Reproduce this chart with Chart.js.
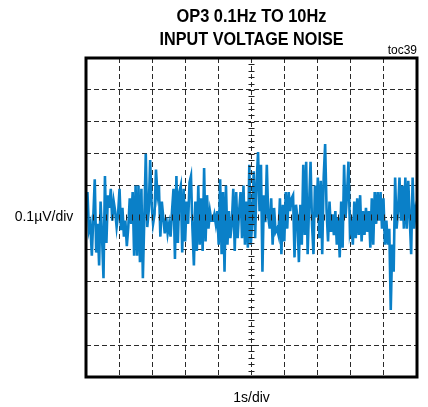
<!DOCTYPE html>
<html>
<head>
<meta charset="utf-8">
<script src="https://cdn.jsdelivr.net/npm/chart.js@4.4.0/dist/chart.umd.min.js"></script>
<style>
  html, body { margin: 0; padding: 0; background: #fff; }
  #wrap { width: 428px; height: 407px; }
</style>
</head>
<body>
<div id="wrap"><canvas id="chart" width="428" height="407"></canvas></div>
<script>
// scope settings: 1s/div horizontally, 0.1uV/div vertically, 10 x 10 divisions
const titleLines = ["OP3 0.1Hz TO 10Hz", "INPUT VOLTAGE NOISE"];
const tocLabel = "toc39";
const yLabel = "0.1\u00B5V/div";
const xLabel = "1s/div";
const timeSpan = 10;       // seconds across the screen
const voltRange = 0.5;     // uV from center to top edge

// noise trace in uV
const noise = [
  // 0-1 s
  0.02, 0.08, -0.04, -0.02, -0.12, 0.00, 0.12, -0.11, -0.02, -0.15, 0.05, -0.06, -0.19, 0.13, -0.08, 0.07, 0.03, 0.09, -0.01, 0.05, 0.02, -0.03,
  // 1-2 s
  0.01, 0.09, -0.04, 0.03, -0.06, -0.01, -0.09, -0.03, 0.06, -0.02, 0.08, -0.12, 0.10, -0.12, 0.10, -0.14, 0.09, -0.19, 0.00, 0.20, -0.03, 0.02,
  // 2-3 s
  0.18, 0.04, -0.02, 0.01, 0.15, 0.07, 0.10, -0.06, 0.05, 0.00, -0.05, 0.00, -0.05, -0.02, -0.06, 0.02, 0.09, -0.13, 0.13, -0.08, 0.08,
  // 3-4 s
  0.10, -0.11, 0.09, -0.075, 0.05, -0.02, 0.11, 0.13, -0.035, -0.15, 0.05, -0.105, 0.10, -0.085, 0.06, -0.105, 0.155, -0.075, 0.07, -0.035, 0.02, -0.01,
  // 4-5 s
  -0.01, 0.01, -0.02, 0.02, -0.085, 0.12, -0.115, 0.08, -0.17, 0.10, -0.085, 0.02, -0.065, -0.02, 0.09, -0.105, 0.08, -0.065, 0.02, 0.08, -0.065, 0.10,
  // 5-6 s
  -0.085, 0.05, -0.095, 0.165, -0.085, -0.015, 0.145, -0.065, 0.11, 0.205, 0.02, 0.165, -0.17, 0.07, -0.015, 0.165, 0.00, -0.035, 0.06, -0.085, 0.03, -0.045, -0.035,
  // 6-7 s
  -0.055, 0.06, -0.115, 0.04, -0.075, 0.08, -0.035, 0.08, 0.02, 0.06, 0.07, -0.125, 0.04, 0.00, -0.14, 0.04, -0.085, 0.165, -0.055, 0.175, -0.115, 0.04,
  // 7-8 s
  0.175, -0.02, -0.115, 0.10, 0.00, 0.125, -0.065, 0.115, -0.115, 0.125, 0.23, 0.02, -0.075, 0.05, -0.045, 0.01, -0.055, 0.02, -0.085, 0.00, -0.125, 0.05, -0.095,
  // 8-9 s
  0.165, 0.00, 0.07, 0.175, -0.045, -0.02, -0.085, 0.05, -0.065, 0.06, -0.055, 0.07, -0.075, 0.02, -0.055, 0.03, -0.045, 0.02, -0.095, 0.06, -0.085, 0.08, -0.02, 0.08, -0.01,
  // 9-10 s
  0.08, -0.035, 0.06, -0.085, -0.01, -0.085, -0.035, -0.29, -0.085, -0.17, 0.125, -0.035, 0.02, 0.125, -0.01, 0.10, -0.035, 0.125, -0.035, 0.115, 0.00, -0.115, 0.125, -0.035, 0.02, -0.01
];

const points = noise.map((v, i) => ({ x: i * timeSpan / (noise.length - 1), y: v }));

const FONT = "'Liberation Sans', Arial, sans-serif";

// narrow bold heading: draw taller glyphs then squeeze them to the width they have in the original
function narrowText(ctx, text, x, y, width) {
  const w = ctx.measureText(text).width;
  ctx.save();
  ctx.translate(x, y);
  ctx.scale(width / w, 1);
  ctx.fillText(text, 0, 0);
  ctx.restore();
}

// frame, center tick marks and the loose text around the screen
const scopePlugin = {
  id: "scope",
  afterDraw(chart) {
    const { ctx, chartArea: a, scales } = chart;
    const xs = scales.x, ys = scales.y;
    const cx = xs.getPixelForValue(timeSpan / 2);
    const cy = ys.getPixelForValue(0);
    ctx.save();
    // small ticks on the center lines, 5 per division
    ctx.strokeStyle = "#222";
    ctx.lineWidth = 1;
    ctx.beginPath();
    for (let t = 0; t <= timeSpan; t += 0.2) {
      const px = Math.round(xs.getPixelForValue(t)) + 0.5;
      ctx.moveTo(px, cy - 3);
      ctx.lineTo(px, cy + 3);
    }
    for (let v = -voltRange; v <= voltRange + 1e-9; v += 0.02) {
      const py = Math.round(ys.getPixelForValue(v)) + 0.5;
      ctx.moveTo(cx - 3, py);
      ctx.lineTo(cx + 3, py);
    }
    ctx.stroke();
    // frame
    ctx.strokeStyle = "#000";
    ctx.lineWidth = 3;
    ctx.strokeRect(a.left, a.top, a.right - a.left, a.bottom - a.top);
    // texts
    ctx.fillStyle = "#000";
    ctx.textAlign = "center";
    ctx.textBaseline = "middle";
    ctx.font = "bold 18px " + FONT;
    narrowText(ctx, titleLines[0], cx, 17, 150);
    narrowText(ctx, titleLines[1], cx, 40, 184);
    ctx.font = "12px " + FONT;
    ctx.textAlign = "right";
    ctx.fillText(tocLabel, a.right, 51);
    ctx.font = "14px " + FONT;
    ctx.textAlign = "center";
    ctx.fillText(yLabel, 44, cy);
    ctx.fillText(xLabel, cx, 398);
    ctx.restore();
  }
};

new Chart(document.getElementById("chart"), {
  type: "line",
  data: {
    datasets: [{
      data: points,
      borderColor: "#0a80c8",
      borderWidth: 2.6,
      pointRadius: 0,
      tension: 0,
      fill: false
    }]
  },
  options: {
    responsive: false,
    animation: false,
    devicePixelRatio: 1,
    layout: { padding: { left: 86, right: 11, top: 58, bottom: 30 } },
    plugins: { legend: { display: false }, tooltip: { enabled: false } },
    scales: {
      x: {
        type: "linear",
        min: 0,
        max: timeSpan,
        ticks: { display: false, stepSize: 1 },
        grid: { color: "#2a2a2a", lineWidth: 1, drawTicks: false },
        border: { display: false, dash: [5, 3] }
      },
      y: {
        min: -voltRange,
        max: voltRange,
        ticks: { display: false, stepSize: 0.1 },
        grid: { color: "#2a2a2a", lineWidth: 1, drawTicks: false },
        border: { display: false, dash: [5, 3] }
      }
    }
  },
  plugins: [scopePlugin]
});
</script>
</body>
</html>
